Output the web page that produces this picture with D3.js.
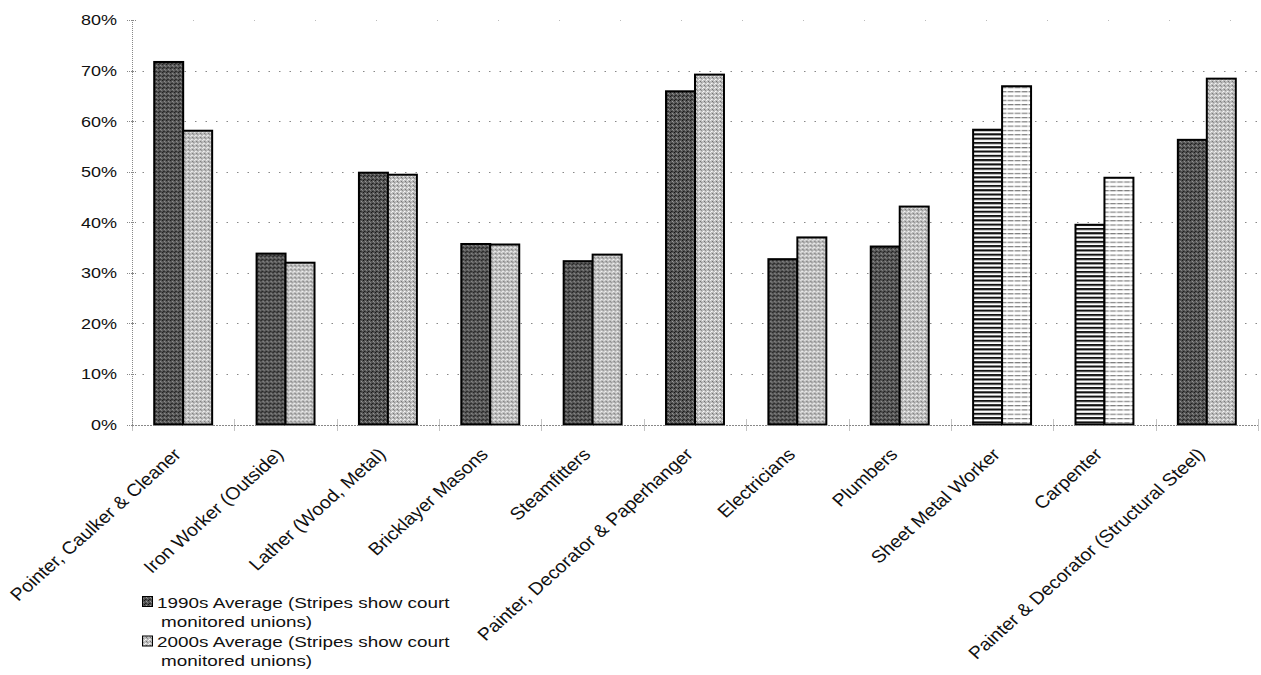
<!DOCTYPE html>
<html>
<head>
<meta charset="utf-8">
<script src="https://cdn.jsdelivr.net/npm/d3@7"></script>
<style>
  body { margin: 0; background: #fff; }
  text { font-family: "Liberation Sans", Arial, sans-serif; fill: #111; }
</style>
</head>
<body>
<div id="chart"></div>
<script>
// ---------- Data ---------- //
var trades = [
  "Pointer, Caulker & Cleaner",
  "Iron Worker (Outside)",
  "Lather (Wood, Metal)",
  "Bricklayer Masons",
  "Steamfitters",
  "Painter, Decorator & Paperhanger",
  "Electricians",
  "Plumbers",
  "Sheet Metal  Worker",
  "Carpenter",
  "Painter & Decorator (Structural Steel)"
];
var avg1990s = [0.717, 0.338, 0.498, 0.357, 0.323, 0.659, 0.327, 0.352, 0.583, 0.395, 0.563];
var avg2000s = [0.581, 0.320, 0.494, 0.356, 0.336, 0.692, 0.370, 0.431, 0.669, 0.488, 0.684];
var courtMonitored = [false, false, false, false, false, false, false, false, true, true, false];
var yTicks = [0, 0.1, 0.2, 0.3, 0.4, 0.5, 0.6, 0.7, 0.8];
var legend1990s = ["1990s Average (Stripes show court", "monitored unions)"];
var legend2000s = ["2000s Average (Stripes show court", "monitored unions)"];

// ---------- Layout ---------- //
var width = 1261, height = 675;
var margin = { top: 20, right: 3, bottom: 250.5, left: 132 };
var stretch = 1.2; // the reference text is a bit wide

var svg = d3.select("#chart").append("svg")
  .attr("width", width)
  .attr("height", height);

var x = d3.scaleBand()
  .domain(trades)
  .range([margin.left, width - margin.right])
  .paddingInner(0.434)
  .paddingOuter(0.217);

var xSeries = d3.scaleBand()
  .domain(["1990s", "2000s"])
  .range([0, x.bandwidth()]);

var y = d3.scaleLinear()
  .domain([0, 0.8])
  .range([height - margin.bottom, margin.top]);

// ---------- Patterns ---------- //
var defs = svg.append("defs");

var texture = function(id, base, dots) {
  var p = defs.append("pattern")
    .attr("id", id)
    .attr("patternUnits", "userSpaceOnUse")
    .attr("width", 4).attr("height", 4);
  p.append("rect").attr("width", 4).attr("height", 4).attr("fill", base);
  dots.forEach(function(d) {
    p.append("rect").attr("x", d[0]).attr("y", d[1]).attr("width", 1).attr("height", 1).attr("fill", d[2]);
  });
};
texture("dark", "#555", [[0, 0, "#161616"], [2, 1, "#9a9a9a"], [1, 3, "#1e1e1e"], [3, 2, "#858585"], [2, 3, "#3a3a3a"]]);
texture("light", "#bdbdbd", [[0, 0, "#f0f0f0"], [2, 1, "#707070"], [1, 3, "#fafafa"], [3, 2, "#8e8e8e"], [2, 3, "#dcdcdc"]]);

var stripeDark = defs.append("pattern")
  .attr("id", "stripeDark")
  .attr("patternUnits", "userSpaceOnUse")
  .attr("width", 6).attr("height", 4.3);
stripeDark.append("rect").attr("width", 6).attr("height", 4.3).attr("fill", "#fff");
stripeDark.append("rect").attr("y", 0).attr("width", 6).attr("height", 2).attr("fill", "#111");
stripeDark.append("rect").attr("y", 2).attr("width", 6).attr("height", 0.6).attr("fill", "#888");

var stripeLight = defs.append("pattern")
  .attr("id", "stripeLight")
  .attr("patternUnits", "userSpaceOnUse")
  .attr("width", 7).attr("height", 4.3);
stripeLight.append("rect").attr("width", 7).attr("height", 4.3).attr("fill", "#fff");
stripeLight.append("rect").attr("y", 1).attr("width", 5).attr("height", 1).attr("fill", "#666");
stripeLight.append("rect").attr("x", 5).attr("y", 1).attr("width", 2).attr("height", 1).attr("fill", "#bbb");

// ---------- Grid ---------- //
svg.append("g")
  .selectAll("line")
  .data(yTicks.filter(function(d) { return d > 0; }))
  .join("line")
  .attr("x1", margin.left)
  .attr("x2", width - margin.right)
  .attr("y1", function(d) { return Math.round(y(d)) + 0.5; })
  .attr("y2", function(d) { return Math.round(y(d)) + 0.5; })
  .attr("stroke", function(d) { return d === 0.8 ? "#bbb" : "#888"; })
  .attr("stroke-width", 1)
  .attr("stroke-dasharray", function(d) { return d === 0.8 ? "1,60" : "1.5,9"; });

// small ticks on the y axis
svg.append("g")
  .selectAll("line")
  .data(yTicks)
  .join("line")
  .attr("x1", margin.left - 5)
  .attr("x2", margin.left + 4)
  .attr("y1", function(d) { return Math.round(y(d)) + 0.5; })
  .attr("y2", function(d) { return Math.round(y(d)) + 0.5; })
  .attr("stroke", "#888")
  .attr("stroke-dasharray", "1,1");

// y axis line
svg.append("line")
  .attr("x1", margin.left + 0.5).attr("x2", margin.left + 0.5)
  .attr("y1", y(0.8)).attr("y2", y(0) + 2)
  .attr("stroke", "#888")
  .attr("stroke-dasharray", "1,1");

// y labels
svg.append("g")
  .selectAll("text")
  .data(yTicks)
  .join("text")
  .attr("transform", function(d) { return "translate(117," + y(d) + ") scale(" + stretch + ",1)"; })
  .attr("text-anchor", "end")
  .attr("dy", "0.36em")
  .attr("font-size", 15)
  .text(d3.format(".0%"));

// ---------- Bars ---------- //
var rows = trades.map(function(t, i) {
  return [
    { trade: t, key: "1990s", value: avg1990s[i], striped: courtMonitored[i] },
    { trade: t, key: "2000s", value: avg2000s[i], striped: courtMonitored[i] }
  ];
});

svg.append("g")
  .selectAll("g")
  .data(rows)
  .join("g")
  .attr("transform", function(d) { return "translate(" + x(d[0].trade) + ",0)"; })
  .selectAll("rect")
  .data(function(d) { return d; })
  .join("rect")
  .attr("x", function(d) { return xSeries(d.key); })
  .attr("y", function(d) { return y(d.value); })
  .attr("width", xSeries.bandwidth())
  .attr("height", function(d) { return y(0) - y(d.value); })
  .attr("fill", function(d) {
    if (d.striped) return d.key === "1990s" ? "url(#stripeDark)" : "url(#stripeLight)";
    return d.key === "1990s" ? "url(#dark)" : "url(#light)";
  })
  .attr("stroke", "#000")
  .attr("stroke-width", 2);

// ---------- X axis ---------- //
svg.append("line")
  .attr("x1", margin.left).attr("x2", width - margin.right)
  .attr("y1", Math.round(y(0)) + 0.5).attr("y2", Math.round(y(0)) + 0.5)
  .attr("stroke", "#888")
  .attr("stroke-dasharray", "2,1");

var bounds = trades.map(function(t) { return x(t) - x.step() * x.paddingOuter(); });
bounds.push(width - margin.right);
svg.append("g")
  .selectAll("line")
  .data(bounds)
  .join("line")
  .attr("x1", function(d) { return Math.round(d) + 0.5; })
  .attr("x2", function(d) { return Math.round(d) + 0.5; })
  .attr("y1", y(0) - 5)
  .attr("y2", y(0) + 6)
  .attr("stroke", "#888")
  .attr("stroke-dasharray", "1,1");

svg.append("g")
  .selectAll("text")
  .data(trades)
  .join("text")
  .attr("transform", function(d) {
    return "translate(" + (x(d) + x.bandwidth() / 2 - 1) + "," + (y(0) + 31) + ") scale(1.12,1) rotate(-45)";
  })
  .attr("text-anchor", "end")
  .attr("font-size", 17.5)
  .text(function(d) { return d; });

// ---------- Legend ---------- //
var legend = svg.append("g");
var legendItems = [
  { fill: "url(#dark)", lines: legend1990s },
  { fill: "url(#light)", lines: legend2000s }
];
legendItems.forEach(function(item, i) {
  var top = 596.5 + i * 39.5;
  legend.append("rect")
    .attr("x", 142.5).attr("y", top)
    .attr("width", 10).attr("height", 10)
    .attr("fill", item.fill)
    .attr("stroke", "#000");
  item.lines.forEach(function(line, j) {
    legend.append("text")
      .attr("transform", "translate(" + (j === 0 ? 157 : 161) + "," + (top + 11 + j * 19) + ") scale(1.26,1)")
      .attr("font-size", 15)
      .text(line);
  });
});
</script>
</body>
</html>
